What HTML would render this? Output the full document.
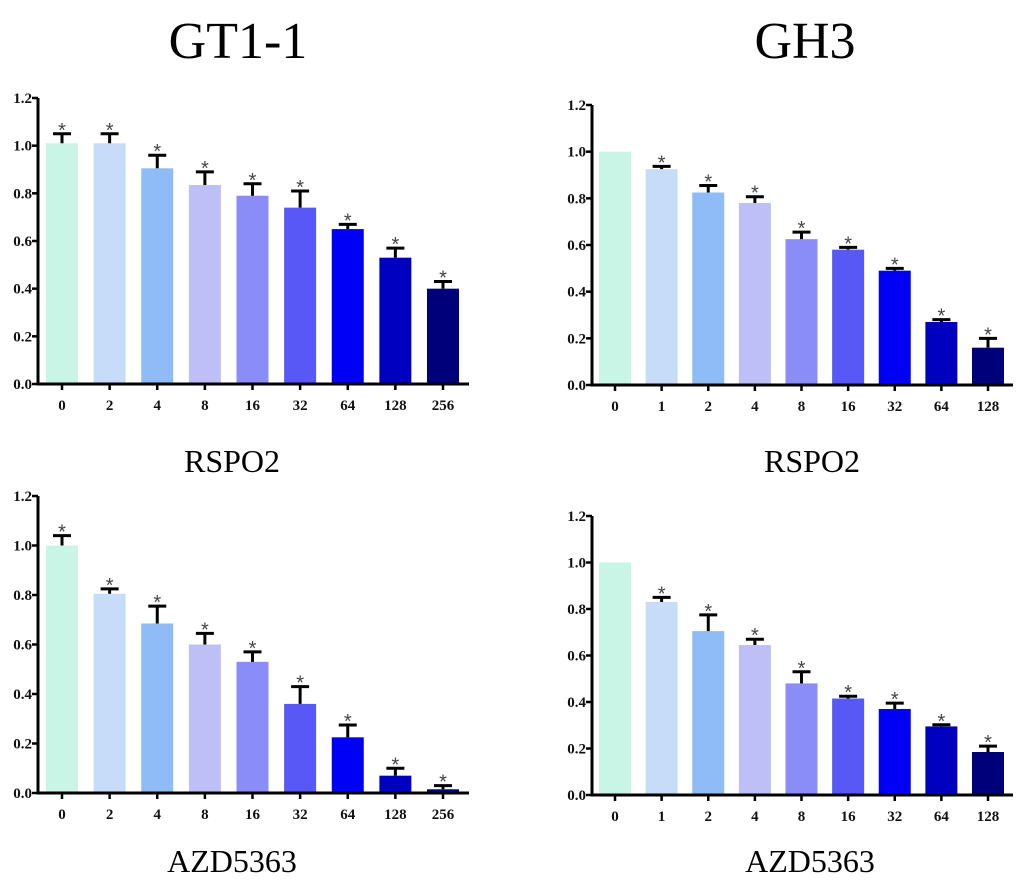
<!DOCTYPE html>
<html><head><meta charset="utf-8"><style>
body{margin:0;background:#fff;}
svg{display:block;}
.t{font-family:"Liberation Serif",serif;fill:#000;}
.tk{font-family:"Liberation Serif",serif;font-weight:bold;font-size:15px;fill:#111;}
</style></head><body>
<svg id="fig" width="1020" height="883" viewBox="0 0 1020 883">
<text class="t" x="238" y="58" font-size="52" text-anchor="middle">GT1-1</text>
<text class="t" x="805" y="58" font-size="52" text-anchor="middle">GH3</text>
<text class="t" x="232" y="472" font-size="32" text-anchor="middle">RSPO2</text>
<text class="t" x="812" y="472" font-size="32" text-anchor="middle">RSPO2</text>
<text class="t" x="232" y="872" font-size="32" text-anchor="middle">AZD5363</text>
<text class="t" x="810" y="872" font-size="32" text-anchor="middle">AZD5363</text>
</svg>
<script>
const colors=["#c8f5e6","#c6dcf8","#8fbcf7","#bfbff8","#8a8cf7","#5858f7","#0000f7","#0000c0","#00007a"];
const catsA=["0","2","4","8","16","32","64","128","256"];
const catsB=["0","1","2","4","8","16","32","64","128"];
const yTicks=["0.0","0.2","0.4","0.6","0.8","1.0","1.2"];
const valsTL=[1.01,1.01,0.905,0.835,0.79,0.74,0.65,0.53,0.40];
const errTL=[0.04,0.04,0.055,0.055,0.05,0.07,0.02,0.04,0.03];
const starTL=[1,1,1,1,1,1,1,1,1];
const valsTR=[1.0,0.925,0.825,0.78,0.625,0.58,0.49,0.27,0.16];
const errTR=[0,0.012,0.03,0.027,0.03,0.01,0.01,0.01,0.04];
const starTR=[0,1,1,1,1,1,1,1,1];
const valsBL=[1.0,0.805,0.685,0.60,0.53,0.36,0.225,0.07,0.015];
const errBL=[0.04,0.02,0.07,0.045,0.04,0.07,0.05,0.03,0.015];
const starBL=[1,1,1,1,1,1,1,1,1];
const valsBR=[1.0,0.83,0.705,0.645,0.48,0.415,0.37,0.295,0.185];
const errBR=[0,0.02,0.07,0.025,0.05,0.01,0.025,0.007,0.025];
const starBR=[0,1,1,1,1,1,1,1,1];
const NS="http://www.w3.org/2000/svg";
const svg=document.getElementById('fig');
function mk(tag,attrs,parent){const e=document.createElementNS(NS,tag);for(const k in attrs)e.setAttribute(k,attrs[k]);(parent||svg).appendChild(e);return e;}
function panel(id,ax,y0,y12,xEnd,c0,c8,cats,vals,errs,stars){
  const g=mk('g',{});
  
  
  const yS=v=>y0-(v/1.2)*(y0-y12);
  const step=(c8-c0)/(cats.length-1);
  const xS=i=>c0+i*step;
  const bw=32;
  vals.forEach((v,i)=>{
    const cx=xS(i);
    const r=mk('rect',{x:cx-bw/2,y:yS(v),width:bw,height:y0-yS(v),fill:colors[i]},g);
    
    
    const top=yS(v+errs[i]);
    if(errs[i]>0){
      const e=mk('path',{d:`M${cx},${yS(v)}V${top}M${cx-9},${top}H${cx+9}`,stroke:'#000','stroke-width':3,fill:'none'},g);
      
      
    }
    if(stars[i]){
      const s=mk('text',{x:cx,y:top+3,'font-size':20,'text-anchor':'middle',fill:'#444','font-family':'Liberation Sans, sans-serif'},g);
      s.textContent='*';
      
      
    }
    mk('line',{x1:cx,x2:cx,y1:y0,y2:y0+6,stroke:'#000','stroke-width':2.5},g);
    const lb=mk('text',{x:cx,y:y0+26,'text-anchor':'middle',class:'tk'},g);
    lb.textContent=cats[i];
    
    
  });
  const ax1=mk('path',{d:`M${ax},${y12}V${y0}H${xEnd}`,stroke:'#000','stroke-width':3,fill:'none'},g);
  
  
  yTicks.forEach((t,i)=>{
    const y=yS(parseFloat(t));
    mk('line',{x1:ax-6,x2:ax,y1:y,y2:y,stroke:'#000','stroke-width':2.5},g);
    const l=mk('text',{x:ax-6,y:y+5,'text-anchor':'end',class:'tk'},g);
    l.textContent=t;
    
    
  });
}
panel('chart-gt1-1-rspo2',38,384,98,469,62,443,catsA,valsTL,errTL,starTL);
panel('chart-gh3-rspo2',592,385,105,1013,615,988,catsB,valsTR,errTR,starTR);
panel('chart-gt1-1-azd5363',38,793,496,469,62,443,catsA,valsBL,errBL,starBL);
panel('chart-gh3-azd5363',592,795,516,1013,615,988,catsB,valsBR,errBR,starBR);
</script>
</body></html>
